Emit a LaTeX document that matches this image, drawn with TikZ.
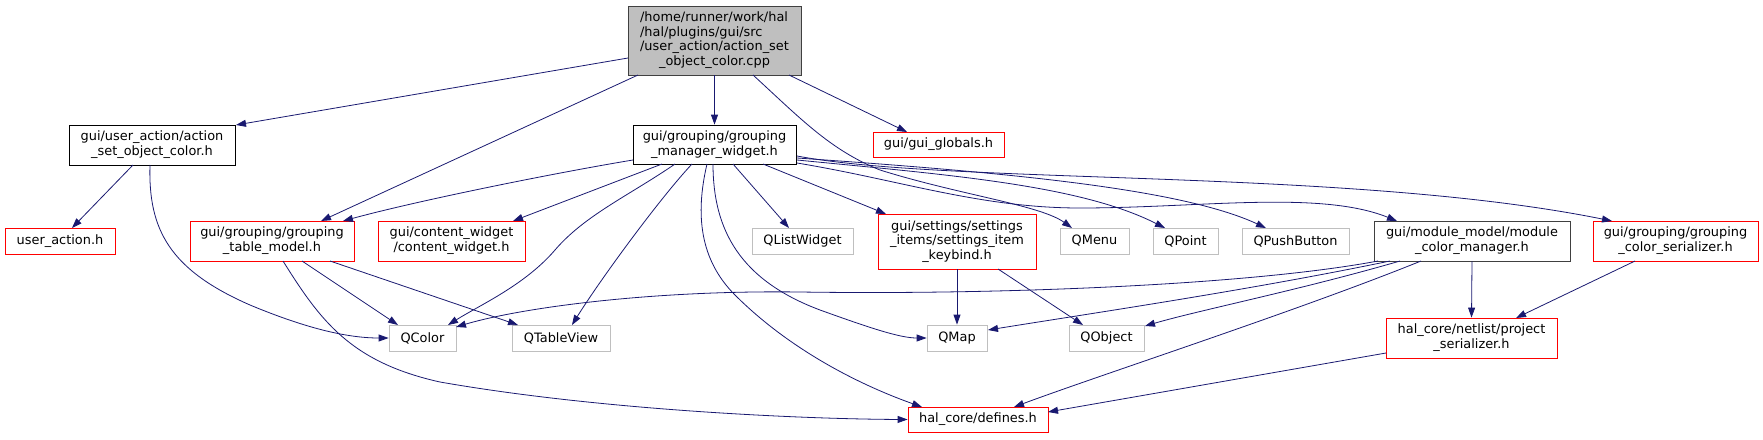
\documentclass[tikz,border=0pt]{standalone}
\usepackage{fontspec}
\setmainfont{DejaVu Sans}
\usetikzlibrary{arrows.meta,calc}
\definecolor{edgec}{HTML}{191970}
\definecolor{redc}{HTML}{FF0000}
\definecolor{greyc}{HTML}{BFBFBF}
\definecolor{darkc}{HTML}{404040}
\begin{document}
\begin{tikzpicture}[x=1pt,y=-1pt,
  box/.style={draw, line width=0.8pt, inner sep=0pt, align=center,
    font=\fontsize{12.9}{14.8}\selectfont, text=black},
  blkbox/.style={box, draw=black},
  darkbox/.style={box, draw=darkc},
  redbox/.style={box, draw=redc},
  qtbox/.style={box, draw=greyc},
  dep/.style={draw=edgec, line width=0.8pt, -{Triangle[length=10pt,width=7pt]}, fill=none}
]
\useasboundingbox (0,0) rectangle (1763,439);

% row 0
\node[darkbox, fill=greyc, minimum width=173pt, minimum height=69pt] (cpp) at (714.5,40.5)
  {\begin{tabular}{@{}l@{}}/home/runner/work/hal\\/hal/plugins/gui/src\\/user\_action/action\_set\\\multicolumn{1}{@{}c@{}}{\_object\_color.cpp}\end{tabular}};
% row 1
\node[blkbox, minimum width=166pt, minimum height=40pt] (act) at (152,145) {gui/user\_action/action\\\_set\_object\_color.h};
\node[blkbox, minimum width=163pt, minimum height=39pt] (mgr) at (714.5,144.5) {gui/grouping/grouping\\\_manager\_widget.h};
\node[redbox, minimum width=131pt, minimum height=25pt] (glob) at (938.5,144.5) {gui/gui\_globals.h};
% row 2
\node[redbox, minimum width=110pt, minimum height=26pt] (ua) at (60,241) {user\_action.h};
\node[redbox, minimum width=164pt, minimum height=40pt] (tbl) at (272,241) {gui/grouping/grouping\\\_table\_model.h};
\node[redbox, minimum width=147pt, minimum height=40pt] (cw) at (451.5,241) {gui/content\_widget\\/content\_widget.h};
\node[qtbox, minimum width=101pt, minimum height=26pt] (qlw) at (802.5,241) {QListWidget};
\node[redbox, minimum width=158pt, minimum height=55pt] (kb) at (957,241.5) {gui/settings/settings\\\_items/settings\_item\\\_keybind.h};
\node[qtbox, minimum width=69pt, minimum height=26pt] (qmenu) at (1094.5,241) {QMenu};
\node[qtbox, minimum width=65pt, minimum height=26pt] (qpoint) at (1185.5,241) {QPoint};
\node[qtbox, minimum width=107pt, minimum height=26pt] (qpb) at (1295.5,241) {QPushButton};
\node[darkbox, minimum width=196pt, minimum height=40pt] (mcm) at (1472,241) {gui/module\_model/module\\\_color\_manager.h};
\node[redbox, minimum width=165pt, minimum height=40pt] (gcs) at (1675.5,241) {gui/grouping/grouping\\\_color\_serializer.h};
% row 3
\node[qtbox, minimum width=67pt, minimum height=26pt] (qcolor) at (422.5,338) {QColor};
\node[qtbox, minimum width=98pt, minimum height=26pt] (qtv) at (561,338) {QTableView};
\node[qtbox, minimum width=60pt, minimum height=26pt] (qmap) at (957,338) {QMap};
\node[qtbox, minimum width=75pt, minimum height=26pt] (qobj) at (1106.5,338) {QObject};
\node[redbox, minimum width=171pt, minimum height=40pt] (ps) at (1471.5,338) {hal\_core/netlist/project\\\_serializer.h};
% row 4
\node[redbox, minimum width=140pt, minimum height=25pt] (def) at (978,419.5) {hal\_core/defines.h};

% edges from cpp
\draw[dep] ($(cpp)+(-86.5,17.5)$) -- ($(act)+(84,-20)$);
\draw[dep] ($(cpp)+(-76.5,34.5)$) -- ($(tbl)+(49,-20)$);
\draw[dep] (cpp.south) -- (mgr.north);
\draw[dep] ($(cpp)+(74.5,34.5)$) -- ($(glob)+(-31.5,-12.5)$);
\draw[dep] ($(cpp)+(38.5,34.5)$) .. controls (800,118) and (830,150) .. (880,170)
  .. controls (960,195) and (1040,205) .. ($(qmenu)+(-22.5,-13)$);

% edges from act
\draw[dep] ($(act)+(-19,20)$) -- ($(ua)+(12,-13)$);
\draw[dep] ($(act)+(-2,20)$) .. controls (148,230) and (170,270) .. (250,305)
  .. controls (310,330) and (350,338) .. (qcolor.west);

% edges from mgr
\draw[dep] ($(mgr)+(-81.5,15.5)$) .. controls (560,172) and (420,200) .. ($(tbl)+(71,-20)$);
\draw[dep] ($(mgr)+(-52.5,19.5)$) -- ($(cw)+(61.5,-20)$);
\draw[dep] ($(mgr)+(-39.5,19.5)$) .. controls (630,195) and (585,215) .. (555,250)
  .. controls (525,285) and (480,305) .. ($(qcolor)+(25.5,-13)$);
\draw[dep] ($(mgr)+(-22.5,19.5)$) .. controls (660,198) and (600,280) .. ($(qtv)+(11,-13)$);
\draw[dep] ($(mgr)+(-7.5,19.5)$) .. controls (695,215) and (700,260) .. (735,295)
  .. controls (790,350) and (860,385) .. ($(def)+(-56,-12.5)$);
\draw[dep] ($(mgr)+(-1.5,19.5)$) .. controls (713,230) and (740,280) .. (820,310)
  .. controls (870,328) and (900,338) .. (qmap.west);
\draw[dep] ($(mgr)+(18.5,19.5)$) -- ($(qlw)+(-13.5,-13)$);
\draw[dep] ($(mgr)+(48.5,19.5)$) -- ($(kb)+(-71,-27.5)$);
\draw[dep] ($(mgr)+(82.5,15.5)$) .. controls (950,175) and (1080,185) .. ($(qpoint)+(-20.5,-13)$);
\draw[dep] ($(mgr)+(82.5,13.5)$) .. controls (1000,172) and (1180,188) .. ($(qpb)+(-29.5,-13)$);
\draw[dep] ($(mgr)+(82.5,11.5)$) .. controls (950,185) and (1350,168) .. ($(gcs)+(-63.5,-20)$);
\draw[dep] ($(mgr)+(82.5,18.5)$) .. controls (900,180) and (980,208) .. (1080,208)
  .. controls (1200,208) and (1320,190) .. ($(mcm)+(-75,-20)$);

% edges from tbl
\draw[dep] ($(tbl)+(30,20)$) -- ($(qcolor)+(-24.5,-13)$);
\draw[dep] ($(tbl)+(58,20)$) -- ($(qtv)+(-43,-13)$);
\draw[dep] ($(tbl)+(11,20)$) .. controls (320,320) and (350,362) .. (440,382)
  .. controls (600,410) and (800,419) .. (def.west);

% edges from kb
\draw[dep] (kb.south) -- (qmap.north);
\draw[dep] ($(kb)+(41,27.5)$) -- ($(qobj)+(-23.5,-13)$);

% edges from mcm
\draw[dep] ($(mcm)+(-94,20)$) .. controls (1250,285) and (1000,295) .. (800,292)
  .. controls (650,290) and (520,308) .. ($(qcolor)+(33.5,-11)$);
\draw[dep] ($(mcm)+(-82,20)$) .. controls (1250,290) and (1100,312) .. ($(qmap)+(31,-8)$);
\draw[dep] ($(mcm)+(-72,20)$) .. controls (1300,290) and (1200,310) .. ($(qobj)+(38.5,-12)$);
\draw[dep] ($(mcm)+(-51,20)$) .. controls (1300,310) and (1100,375) .. ($(def)+(36,-12.5)$);
\draw[dep] (mcm.south) -- (ps.north);

% others
\draw[dep] ($(gcs)+(-40.5,20)$) -- ($(ps)+(44.5,-20)$);
\draw[dep] ($(ps)+(-85.5,15)$) -- ($(def)+(70,-7.5)$);
\end{tikzpicture}
\end{document}
